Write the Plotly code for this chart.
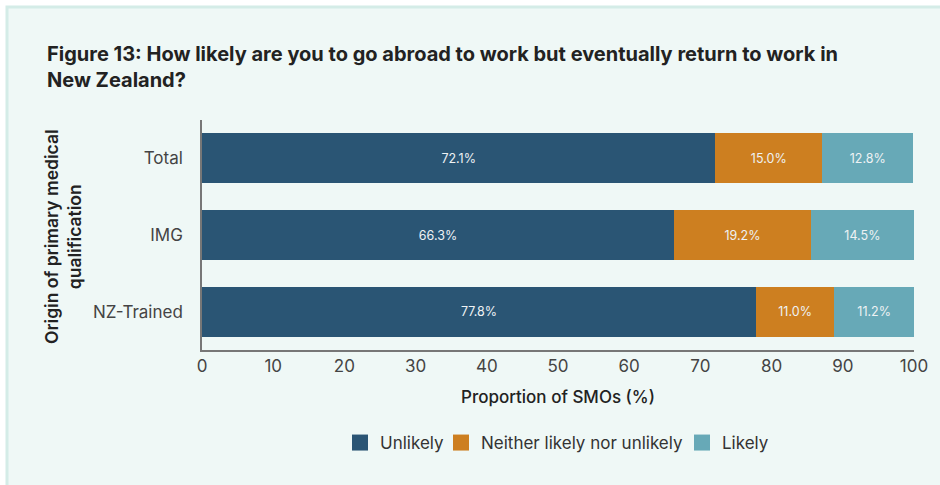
import plotly.graph_objects as go

# Survey responses by origin of primary medical qualification
groups = ["Total", "IMG", "NZ-Trained"]
unlikely = [72.1, 66.3, 77.8]
neither = [15.0, 19.2, 11.0]
likely = [12.8, 14.5, 11.2]

series = [
    ("Unlikely", unlikely, "#2a5574"),
    ("Neither likely nor unlikely", neither, "#cd7f20"),
    ("Likely", likely, "#67a9b7"),
]
x_ticks = list(range(0, 101, 10))

FONT = "Inter, 'Open Sans', sans-serif"
BG = "#eff8f6"
FRAME = "#d4ece7"

W, H = 940, 485
L, R, T, B = 202, 26, 120, 135
pw, ph = W - L - R, H - T - B


def px(xp):
    return (xp - L) / pw


def py(yp):
    return (H - B - yp) / ph


fig = go.Figure()
for name, vals, color in series:
    fig.add_trace(go.Bar(
        y=groups,
        x=vals,
        name=name,
        orientation="h",
        marker=dict(color=color, line=dict(width=0)),
        width=0.65,
        text=[f"{v:.1f}%" for v in vals],
        textposition="inside",
        insidetextanchor="middle",
        textangle=0,
        textfont=dict(family=FONT, size=12.5, color="#eef2f4"),
        hoverinfo="skip",
        showlegend=False,
    ))

# Legend entries: one square swatch per response, each in its own legend box
legend_left = [340, 441, 682]
legend_ids = ["legend", "legend2", "legend3"]
for (name, vals, color), lid in zip(series, legend_ids):
    fig.add_trace(go.Scatter(
        x=[None], y=[None],
        mode="markers",
        name=name,
        marker=dict(symbol="square", size=16, color=color, line=dict(width=0)),
        legend=lid,
        showlegend=True,
        hoverinfo="skip",
    ))

legend_style = dict(
    orientation="h",
    xanchor="left",
    y=py(443), yanchor="middle",
    font=dict(family=FONT, size=17, color="#333333"),
    bgcolor="rgba(0,0,0,0)",
    itemwidth=30,
)

fig.update_layout(
    width=W,
    height=H,
    margin=dict(l=L, r=R, t=T, b=B),
    barmode="stack",
    paper_bgcolor="white",
    plot_bgcolor=BG,
    font=dict(family=FONT, color="#333333"),
    showlegend=True,
    legend=dict(x=px(legend_left[0]), **legend_style),
    legend2=dict(x=px(legend_left[1]), **legend_style),
    legend3=dict(x=px(legend_left[2]), **legend_style),
    xaxis=dict(
        range=[0, 100],
        tickvals=x_ticks,
        ticktext=[str(t) for t in x_ticks],
        showgrid=False,
        zeroline=False,
        showline=True,
        linecolor="#777777",
        linewidth=1.5,
        ticks="",
        tickfont=dict(family=FONT, size=17, color="#444444"),
        title=dict(text="Proportion of SMOs (%)",
                   font=dict(family=FONT, size=17, color="#222222", weight=500),
                   standoff=16),
        fixedrange=True,
    ),
    yaxis=dict(
        categoryorder="array",
        categoryarray=groups[::-1],
        showgrid=False,
        zeroline=False,
        showline=True,
        linecolor="#777777",
        linewidth=1.5,
        ticks="",
        ticklabelstandoff=14,
        tickfont=dict(family=FONT, size=17, color="#444444"),
        fixedrange=True,
    ),
    shapes=[
        dict(type="rect", xref="paper", yref="paper",
             x0=px(7), x1=px(W + 20), y0=py(7), y1=py(H + 20),
             line=dict(color=FRAME, width=3), fillcolor=BG, layer="below"),
    ],
    annotations=[
        dict(text="<b>Figure 13: How likely are you to go abroad to work but eventually return to work in<br>New Zealand?</b>",
             xref="paper", yref="paper", x=px(45), y=py(40),
             xanchor="left", yanchor="top", align="left", showarrow=False,
             font=dict(family=FONT, size=20, color="#222222")),
        dict(text="Origin of primary medical<br>qualification",
             xref="paper", yref="paper", x=px(63), y=py(237),
             xanchor="center", yanchor="middle", align="center", textangle=-90,
             showarrow=False,
             font=dict(family=FONT, size=17.5, color="#222222", weight=600)),
    ],
)

fig.write_html("out.html")
